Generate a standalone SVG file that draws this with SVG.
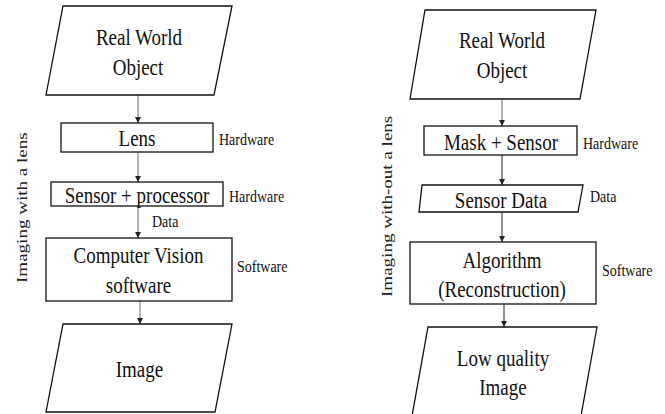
<svg xmlns="http://www.w3.org/2000/svg" width="665" height="414" viewBox="0 0 665 414">
<defs>
<marker id="ah" viewBox="0 0 6 6" refX="6" refY="3" markerWidth="6" markerHeight="6" markerUnits="userSpaceOnUse" orient="auto">
<path d="M0,0 L6,3 L0,6 z" fill="#222"/>
</marker>
<style>
.box{fill:#fff;stroke:#111;stroke-width:1.3}
text{font-family:'Liberation Serif','DejaVu Serif',serif;fill:#111}
.t{font-size:19px;text-anchor:middle}
.s{font-size:14px}
.v{font-size:15px;fill:#222}
.c{stroke:#666;stroke-width:1;fill:none;marker-end:url(#ah)}
.cd{stroke:#222;stroke-width:1;fill:none;marker-end:url(#ah)}
</style>
</defs>
<rect width="665" height="414" fill="#fff"/>

<g id="connectors">
<line class="c" x1="138" y1="95" x2="138" y2="123"/>
<line class="c" x1="138" y1="152" x2="138" y2="182"/>
<line class="c" x1="138" y1="206" x2="138" y2="238"/>
<line class="c" x1="140" y1="301" x2="140" y2="324"/>
<line class="c" x1="502" y1="99" x2="502" y2="126"/>
<line class="cd" x1="502" y1="155" x2="502" y2="185"/>
<line class="cd" x1="502" y1="212" x2="502" y2="242"/>
<line class="cd" x1="504" y1="304" x2="504" y2="327"/>
</g>

<g id="left-label">
<text class="v" font-family="Liberation Serif, serif" transform="translate(27,283) scale(1,1.27) rotate(-90)">Imaging with a lens</text>
</g>
<g id="right-label">
<text class="v" font-family="Liberation Serif, serif" transform="translate(392,297) scale(1,1.27) rotate(-90)">Imaging with-out a lens</text>
</g>

<g id="l-object">
<polygon class="box" points="63,6 232,6 214,95 46,95"/>
<text class="t" font-family="Liberation Serif, serif" transform="translate(139,45) scale(1,1.25)">Real World</text>
<text class="t" font-family="Liberation Serif, serif" transform="translate(138,75) scale(1,1.25)">Object</text>
</g>
<g id="l-lens">
<rect class="box" x="61" y="123" width="152" height="29"/>
<text class="t" font-family="Liberation Serif, serif" transform="translate(137,146) scale(1,1.25)">Lens</text>
<text class="s" font-family="Liberation Serif, serif" transform="translate(219,145) scale(1,1.25)">Hardware</text>
</g>
<g id="l-sensor">
<rect class="box" x="51" y="182" width="172" height="24"/>
<text class="t" font-family="Liberation Serif, serif" transform="translate(137,203) scale(1,1.25)">Sensor + processor</text>
<text class="s" font-family="Liberation Serif, serif" transform="translate(229,202) scale(1,1.25)">Hardware</text>
</g>
<g id="l-data">
<text class="s" font-family="Liberation Serif, serif" transform="translate(152,227) scale(1,1.25)">Data</text>
</g>
<g id="l-cv">
<rect class="box" x="46" y="238" width="186" height="63"/>
<text class="t" font-family="Liberation Serif, serif" transform="translate(138.5,263) scale(1,1.25)">Computer Vision</text>
<text class="t" font-family="Liberation Serif, serif" transform="translate(138.5,293) scale(1,1.25)">software</text>
<text class="s" font-family="Liberation Serif, serif" transform="translate(237,272) scale(1,1.25)">Software</text>
</g>
<g id="l-image">
<polygon class="box" points="63,324 232,324 215,412 46,412"/>
<text class="t" font-family="Liberation Serif, serif" transform="translate(139.5,377) scale(1,1.25)">Image</text>
</g>

<g id="r-object">
<polygon class="box" points="425,10 596,10 580,99 410,99"/>
<text class="t" font-family="Liberation Serif, serif" transform="translate(502,48) scale(1,1.25)">Real World</text>
<text class="t" font-family="Liberation Serif, serif" transform="translate(502,78) scale(1,1.25)">Object</text>
</g>
<g id="r-mask">
<rect class="box" x="424" y="126" width="153" height="29"/>
<text class="t" font-family="Liberation Serif, serif" transform="translate(501,150) scale(1,1.25)">Mask + Sensor</text>
<text class="s" font-family="Liberation Serif, serif" transform="translate(583,149) scale(1,1.25)">Hardware</text>
</g>
<g id="r-sensordata">
<polygon class="box" points="422,185 583,185 578,212 419,212"/>
<text class="t" font-family="Liberation Serif, serif" transform="translate(501,208) scale(1,1.25)">Sensor Data</text>
<text class="s" font-family="Liberation Serif, serif" transform="translate(590,202) scale(1,1.25)">Data</text>
</g>
<g id="r-algo">
<rect class="box" x="410" y="242" width="186" height="62"/>
<text class="t" font-family="Liberation Serif, serif" transform="translate(502,268) scale(1,1.25)">Algorithm</text>
<text class="t" font-family="Liberation Serif, serif" transform="translate(502,297) scale(1,1.25)">(Reconstruction)</text>
<text class="s" font-family="Liberation Serif, serif" transform="translate(602,276) scale(1,1.25)">Software</text>
</g>
<g id="r-image">
<polygon class="box" points="428,327 597,327 581,416 412,416"/>
<text class="t" font-family="Liberation Serif, serif" transform="translate(503,366) scale(1,1.25)">Low quality</text>
<text class="t" font-family="Liberation Serif, serif" transform="translate(503,395) scale(1,1.25)">Image</text>
</g>
</svg>
